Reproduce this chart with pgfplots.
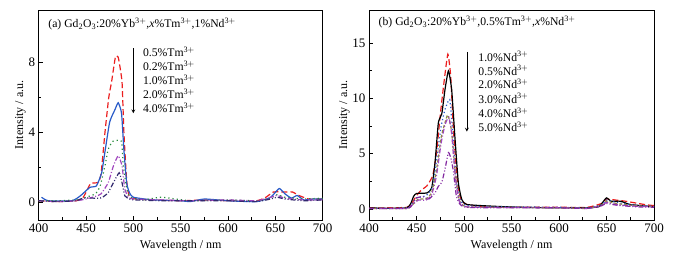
\documentclass[border=0pt]{standalone}
\usepackage{pgfplots}
\pgfplotsset{compat=1.18}
\usepackage{fontspec}
\setmainfont{Liberation Serif}
\definecolor{cred}{RGB}{235,30,30}
\definecolor{cblue}{RGB}{40,90,200}
\definecolor{cgreen}{RGB}{40,140,60}
\definecolor{cpurple}{RGB}{160,70,190}
\definecolor{cnavy}{RGB}{50,40,110}
\definecolor{colive}{RGB}{140,140,60}
\definecolor{cmag}{RGB}{130,40,160}
\tikzset{lab/.style={anchor=west, inner sep=0pt, font=\fontsize{11.7}{13}\selectfont}}
\pgfplotsset{
  myaxis/.style={
    scale only axis, anchor=south west,
    height=210pt,
    xmin=400, xmax=700, ymin=-1,
    xtick={400,450,...,700}, minor x tick num=1,
    minor y tick num=1,
    tick align=inside, tick style={black, line width=0.8pt},
    major tick length=4pt, minor tick length=2.5pt,
    axis line style={line width=0.9pt},
    xtick pos=bottom, ytick pos=left,
    tick label style={font=\fontsize{13}{15}\selectfont},
    label style={font=\fontsize{12}{14}\selectfont},
    /pgf/number format/assume math mode=true,
    xlabel={Wavelength / nm}, ylabel={Intensity / a.u.},
    xlabel style={yshift=-1pt}, ylabel style={yshift=-4pt},
    clip mode=individual,
    every axis plot/.append style={line width=1.2pt, smooth, tension=0.3},
  },
}
\begin{document}
\begin{tikzpicture}
\useasboundingbox (0,0) rectangle (677pt,259pt);
% ---------------- Panel (a)
\begin{axis}[myaxis, at={(38.7pt,39pt)}, width=284pt, ymax=11, ytick={0,4,8}]
\addplot[cred, dash pattern=on 6pt off 3pt] coordinates {
(400,0.1)(420,0.05)(440,0.1)(447,0.3)(452,0.8)(455,1.1)(463,1.15)(466,1.7)(470,4.0)(474,6.0)(477,6.9)(481,8.3)(484,8.3)(488,6.9)(490,4.0)(493,1.2)(496,0.3)(505,0.2)(520,0.15)(550,0.1)(580,0.15)(600,0.1)(630,0.1)(640,0.3)(648,0.6)(660,0.6)(668,0.6)(675,0.4)(685,0.2)(700,0.2)};
\addplot[cblue] coordinates {
(403,0.3)(410,0.1)(435,0.1)(444,0.38)(454,0.86)(461,0.95)(466.5,1.7)(470,2.9)(475,4.6)(480.5,5.3)(484,5.7)(487.5,5.1)(490,3.0)(493,1.1)(496,0.55)(500,0.3)(520,0.15)(550,0.1)(560,0.05)(575,0.2)(600,0.1)(630,0.05)(645,0.3)(654,0.8)(660,0.5)(667,0.25)(673,0.4)(680,0.15)(690,0.2)(700,0.2)};
\addplot[cgreen, dash pattern=on 1.2pt off 3pt] coordinates {
(400,0.1)(420,0.1)(440,0.15)(450,0.3)(460,0.5)(465,0.95)(470,2.1)(473.5,3.05)(478.5,3.5)(487.5,3.5)(489,2.3)(493,0.76)(497,0.3)(510,0.15)(530,0.3)(560,0.1)(600,0.15)(630,0.1)(645,0.25)(652,0.45)(660,0.3)(680,0.2)(700,0.25)};
\addplot[cpurple, dash pattern=on 5pt off 2pt on 1pt off 2pt] coordinates {
(400,0.1)(420,0.05)(440,0.1)(450,0.2)(460,0.35)(466,0.5)(473.5,1.14)(479,2.1)(484,2.67)(488,2.1)(491,0.76)(495,0.3)(500,0.2)(530,0.15)(560,0.1)(600,0.15)(630,0.1)(645,0.3)(652,0.4)(660,0.25)(680,0.15)(700,0.15)};
\addplot[cnavy, dash pattern=on 5pt off 2pt on 1pt off 2pt on 1pt off 2pt] coordinates {
(400,0.1)(420,0.05)(440,0.1)(447,0.25)(465,0.25)(470,0.4)(473.5,0.57)(479,1.14)(485,1.7)(488,1.14)(491,0.38)(496,0.2)(500,0.15)(530,0.1)(560,0.1)(600,0.1)(630,0.05)(645,0.2)(652,0.3)(660,0.2)(680,0.1)(700,0.15)};
\node[lab] at (axis cs:410,10.2) {(a) Gd$_\mathrm{2}$O$_\mathrm{3}$:20\%Yb$^\mathrm{3+}$,\textit{x}\%Tm$^\mathrm{3+}$,1\%Nd$^\mathrm{3+}$};
\draw[-stealth, line width=0.7pt] (axis cs:500,8.8) -- (axis cs:500,5.1);
\node[lab] at (axis cs:510,8.6) {0.5\%Tm$^\mathrm{3+}$};
\node[lab] at (axis cs:510,7.8) {0.2\%Tm$^\mathrm{3+}$};
\node[lab] at (axis cs:510,7.0) {1.0\%Tm$^\mathrm{3+}$};
\node[lab] at (axis cs:510,6.2) {2.0\%Tm$^\mathrm{3+}$};
\node[lab] at (axis cs:510,5.4) {4.0\%Tm$^\mathrm{3+}$};
\end{axis}
% ---------------- Panel (b)
\begin{axis}[myaxis, at={(369pt,39pt)}, width=285pt, ymax=18, ytick={0,5,10,15}]
\addplot[cred, dash pattern=on 6pt off 3pt] coordinates {
(400,0.1)(420,0.1)(440,0.15)(445,0.5)(450,1.2)(455,1.7)(461,2.1)(467,3)(471,5)(475,8.5)(479,11.5)(483,14)(486,12)(489,7)(493,2.5)(497,0.8)(503,0.4)(520,0.2)(550,0.15)(600,0.15)(630,0.15)(645,0.5)(650,0.9)(660,0.8)(670,0.7)(690,0.4)(700,0.3)};
\addplot[black] coordinates {
(400,0.1)(420,0.05)(440,0.1)(444,0.5)(447,1.15)(450,1.4)(461,1.45)(466,1.9)(469.5,4.2)(473,7.8)(476.6,8.6)(480,10.8)(483.6,12.5)(487,10.8)(490.6,6.3)(494,2.4)(497.7,0.85)(503,0.4)(530,0.25)(560,0.15)(600,0.1)(630,0.1)(642,0.2)(646,0.6)(650,1.0)(655,0.7)(665,0.7)(675,0.4)(700,0.2)};
\addplot[cblue, dash pattern=on 1.2pt off 2.5pt] coordinates {
(400,0.05)(440,0.1)(445,0.4)(450,1.0)(460,1.2)(467,2)(472,5)(476,7.5)(480,9)(485,9.9)(488,7)(492,2.5)(496,0.8)(503,0.3)(530,0.2)(600,0.15)(630,0.1)(645,0.4)(650,0.8)(660,0.6)(680,0.35)(700,0.25)};
\addplot[colive, dash pattern=on 3pt off 2pt] coordinates {
(400,0.05)(440,0.05)(446,0.4)(452,0.9)(460,0.9)(466,1.5)(471,3.5)(476,6.5)(480,7.8)(483,8.5)(487,7)(491,3)(495,0.8)(502,0.2)(530,0.15)(600,0.1)(630,0.05)(645,0.35)(650,0.7)(660,0.5)(680,0.3)(700,0.2)};
\addplot[cpurple, dash pattern=on 5pt off 2pt on 1pt off 2pt] coordinates {
(400,0.05)(440,0.05)(446,0.4)(452,0.8)(460,0.8)(466,1.3)(471,3)(476,6)(480,7.6)(484,8.3)(487,6.8)(491,2.8)(495,0.7)(502,0.2)(530,0.15)(600,0.1)(630,0.05)(645,0.3)(650,0.6)(660,0.4)(680,0.25)(700,0.2)};
\addplot[cmag, dash pattern=on 5pt off 2pt on 1pt off 2pt on 1pt off 2pt] coordinates {
(400,0.05)(440,0.05)(446,0.5)(450,1.0)(457,1.1)(463,0.9)(469.5,1.45)(473,2.05)(476.6,2.4)(480,3.6)(483.6,5.1)(486.5,4.5)(489,3.3)(492,1.15)(496,0.4)(502,0.15)(530,0.1)(600,0.1)(630,0.05)(645,0.3)(650,0.5)(660,0.35)(680,0.2)(700,0.15)};
\node[lab] at (axis cs:410,16.9) {(b) Gd$_\mathrm{2}$O$_\mathrm{3}$:20\%Yb$^\mathrm{3+}$,0.5\%Tm$^\mathrm{3+}$,\textit{x}\%Nd$^\mathrm{3+}$};
\draw[-stealth, line width=0.7pt] (axis cs:503,14.2) -- (axis cs:503,7.0);
\node[lab] at (axis cs:515,13.8) {1.0\%Nd$^\mathrm{3+}$};
\node[lab] at (axis cs:515,12.55) {0.5\%Nd$^\mathrm{3+}$};
\node[lab] at (axis cs:515,11.3) {2.0\%Nd$^\mathrm{3+}$};
\node[lab] at (axis cs:515,10.0) {3.0\%Nd$^\mathrm{3+}$};
\node[lab] at (axis cs:515,8.7) {4.0\%Nd$^\mathrm{3+}$};
\node[lab] at (axis cs:515,7.45) {5.0\%Nd$^\mathrm{3+}$};
\end{axis}
\end{tikzpicture}
\end{document}
